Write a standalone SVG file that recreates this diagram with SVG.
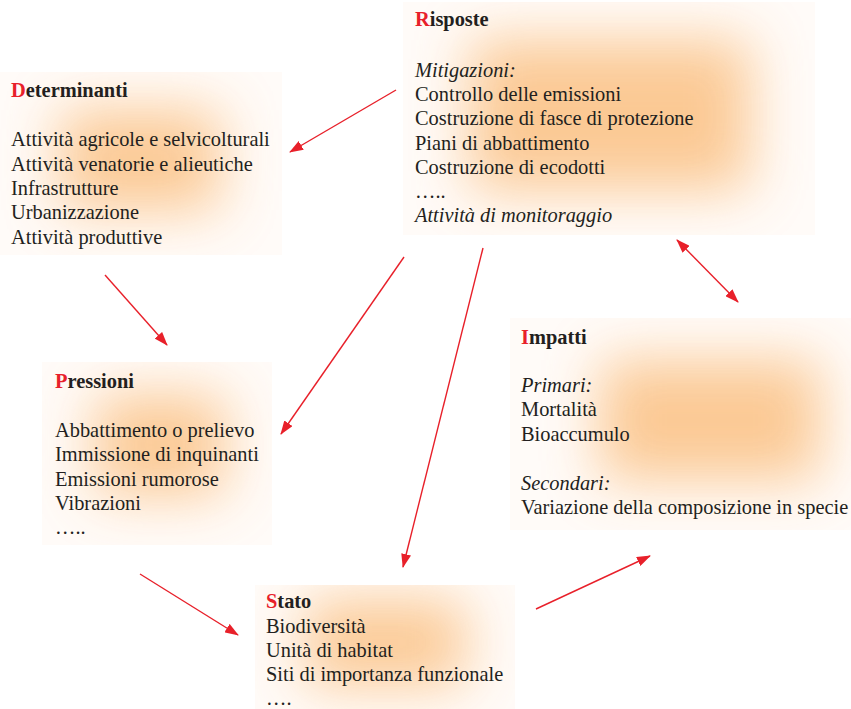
<svg xmlns="http://www.w3.org/2000/svg" width="851" height="709" viewBox="0 0 851 709">
  <style>
    .t { font-family: "Liberation Serif", "Times New Roman", serif; font-size: 20.4px; fill: #231f20; }
    .h { font-weight: bold; }
    .i { font-style: italic; }
    .r { fill: #e8202a; }
    .bg { fill: #fffbf8; }
    .glow { fill: #fbc48a; opacity: 0.9; filter: url(#soft); }
    .link { stroke: #e8202a; stroke-width: 1.4; fill: none; marker-end: url(#head); }
  </style>
  <defs>
    <filter id="soft" x="-80%" y="-80%" width="260%" height="260%">
      <feGaussianBlur stdDeviation="28"/>
    </filter>
    <marker id="head" viewBox="0 0 14 10" refX="13" refY="5" markerWidth="14" markerHeight="10" markerUnits="userSpaceOnUse" orient="auto-start-reverse">
      <path d="M0,0 L14,5 L0,10 Z" fill="#e8202a"/>
    </marker>
    <clipPath id="cD"><rect x="0" y="72" width="282" height="183"/></clipPath>
    <clipPath id="cR"><rect x="403" y="2" width="412" height="233"/></clipPath>
    <clipPath id="cP"><rect x="42" y="362" width="230" height="183"/></clipPath>
    <clipPath id="cI"><rect x="510" y="318" width="341" height="212"/></clipPath>
    <clipPath id="cS"><rect x="255" y="585" width="260" height="124"/></clipPath>
  </defs>

  <rect width="851" height="709" fill="#ffffff"/>

  <!-- Determinanti -->
  <g id="determinanti">
    <g clip-path="url(#cD)">
      <rect class="bg" x="0" y="72" width="282" height="183"/>
      <rect class="glow" x="60" y="110" width="160" height="100"/>
    </g>
    <text class="t h" x="11" y="97"><tspan class="r">D</tspan>eterminanti</text>
    <text class="t" x="11" y="146">Attività agricole e selvicolturali</text>
    <text class="t" x="11" y="171">Attività venatorie e alieutiche</text>
    <text class="t" x="11" y="195">Infrastrutture</text>
    <text class="t" x="11" y="219">Urbanizzazione</text>
    <text class="t" x="11" y="244">Attività produttive</text>
  </g>

  <!-- Risposte -->
  <g id="risposte">
    <g clip-path="url(#cR)">
      <rect class="bg" x="403" y="2" width="412" height="233"/>
      <rect class="glow" x="470" y="40" width="280" height="150"/>
    </g>
    <text class="t h" x="415" y="26"><tspan class="r">R</tspan>isposte</text>
    <text class="t i" x="415" y="77">Mitigazioni:</text>
    <text class="t" x="415" y="101">Controllo delle emissioni</text>
    <text class="t" x="415" y="125">Costruzione di fasce di protezione</text>
    <text class="t" x="415" y="150">Piani di abbattimento</text>
    <text class="t" x="415" y="174">Costruzione di ecodotti</text>
    <text class="t" x="415" y="198">…..</text>
    <text class="t i" x="415" y="222">Attività di monitoraggio</text>
  </g>

  <!-- Pressioni -->
  <g id="pressioni">
    <g clip-path="url(#cP)">
      <rect class="bg" x="42" y="362" width="230" height="183"/>
      <rect class="glow" x="95" y="395" width="130" height="100"/>
    </g>
    <text class="t h" x="55" y="388"><tspan class="r">P</tspan>ressioni</text>
    <text class="t" x="55" y="437">Abbattimento o prelievo</text>
    <text class="t" x="55" y="461">Immissione di inquinanti</text>
    <text class="t" x="55" y="486">Emissioni rumorose</text>
    <text class="t" x="55" y="510">Vibrazioni</text>
    <text class="t" x="55" y="534">…..</text>
  </g>

  <!-- Impatti -->
  <g id="impatti">
    <g clip-path="url(#cI)">
      <rect class="bg" x="510" y="318" width="341" height="212"/>
      <rect class="glow" x="600" y="360" width="220" height="120"/>
    </g>
    <text class="t h" x="521" y="344"><tspan class="r">I</tspan>mpatti</text>
    <text class="t i" x="521" y="392">Primari:</text>
    <text class="t" x="521" y="416">Mortalità</text>
    <text class="t" x="521" y="441">Bioaccumulo</text>
    <text class="t i" x="521" y="490">Secondari:</text>
    <text class="t" x="521" y="514">Variazione della composizione in specie</text>
  </g>

  <!-- Stato -->
  <g id="stato">
    <g clip-path="url(#cS)">
      <rect class="bg" x="255" y="585" width="260" height="124"/>
      <rect class="glow" x="305" y="600" width="160" height="85"/>
    </g>
    <text class="t h" x="266" y="608"><tspan class="r">S</tspan>tato</text>
    <text class="t" x="266" y="633">Biodiversità</text>
    <text class="t" x="266" y="657">Unità di habitat</text>
    <text class="t" x="266" y="681">Siti di importanza funzionale</text>
    <text class="t" x="266" y="705">….</text>
  </g>

  <!-- Connectors -->
  <g id="connectors">
    <line class="link" x1="396" y1="90" x2="290" y2="152"/>
    <line class="link" x1="105" y1="275" x2="167" y2="345"/>
    <line class="link" x1="404" y1="257" x2="281" y2="434"/>
    <line class="link" x1="483" y1="248" x2="403" y2="567"/>
    <line class="link" x1="140" y1="574" x2="238" y2="635"/>
    <line class="link" x1="677" y1="240" x2="738" y2="302" marker-start="url(#head)"/>
    <line class="link" x1="536" y1="609" x2="650" y2="556"/>
  </g>
</svg>
